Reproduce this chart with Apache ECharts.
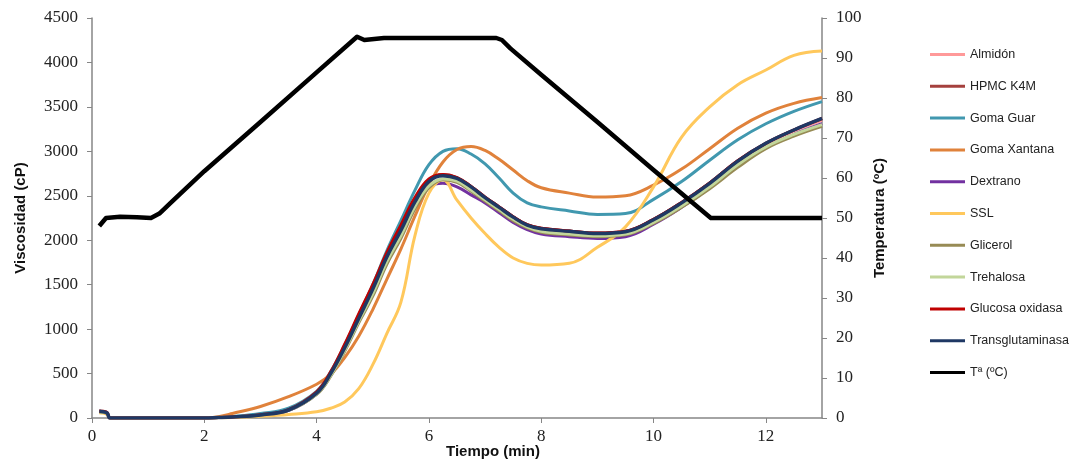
<!DOCTYPE html>
<html lang="es">
<head>
<meta charset="utf-8">
<title>Viscosidad y temperatura</title>
<script src="https://cdn.jsdelivr.net/npm/echarts@6/dist/echarts.min.js"></script>
<style>
  html, body { margin: 0; padding: 0; background: #fff; }
  #chart { width: 1085px; height: 463px; }
</style>
</head>
<body>
<div id="chart"></div>
<script>
// tiempo (min) comun a todas las curvas de viscosidad
var tiempo = [0.13, 0.2, 0.27, 0.32, 0.5, 1, 1.5, 2, 2.25, 2.5, 3, 3.5, 4, 4.25, 4.5, 4.75, 5, 5.25, 5.5, 5.75,
  6, 6.25, 6.5, 6.75, 7, 7.25, 7.5, 7.75, 8, 8.5, 9, 9.5, 10, 10.5, 11, 11.5, 12, 12.5, 13];

// viscosidad (cP)
var almidon = [70, 65, 50, 0, 0, 0, 0, 0, 5, 12, 35, 90, 280, 500, 800, 1130, 1460, 1820, 2120, 2440,
  2665, 2730, 2700, 2600, 2480, 2370, 2260, 2170, 2130, 2100, 2075, 2095, 2230, 2420, 2640, 2890, 3080, 3230, 3350];
var hpmc = [75, 70, 55, 0, 0, 0, 0, 0, 5, 12, 35, 90, 285, 505, 805, 1135, 1470, 1830, 2130, 2450,
  2675, 2740, 2705, 2605, 2485, 2375, 2265, 2175, 2135, 2105, 2080, 2100, 2235, 2425, 2645, 2895, 3090, 3240, 3365];
var gomaGuar = [70, 65, 50, 0, 0, 0, 0, 0, 5, 15, 50, 110, 300, 520, 820, 1160, 1500, 1880, 2220, 2560,
  2850, 3000, 3030, 2970, 2860, 2700, 2530, 2420, 2375, 2330, 2290, 2300, 2460, 2660, 2900, 3130, 3310, 3450, 3560];
var gomaXantana = [70, 65, 50, 0, 0, 0, 0, 0, 15, 50, 130, 240, 380, 490, 680, 920, 1220, 1560, 1900, 2270,
  2620, 2880, 3020, 3055, 3010, 2910, 2790, 2670, 2590, 2530, 2485, 2500, 2620, 2800, 3030, 3260, 3430, 3540, 3605];
var dextrano = [70, 65, 50, 0, 0, 0, 0, 0, 5, 12, 35, 85, 270, 480, 770, 1100, 1420, 1780, 2080, 2390,
  2600, 2640, 2600, 2510, 2420, 2310, 2200, 2120, 2070, 2040, 2020, 2040, 2180, 2370, 2590, 2840, 3040, 3190, 3310];
var ssl = [60, 55, 40, 0, 0, 0, 0, 0, 2, 5, 20, 40, 70, 110, 180, 330, 600, 950, 1300, 2050,
  2530, 2680, 2450, 2250, 2075, 1920, 1800, 1740, 1720, 1740, 1920, 2150, 2600, 3160, 3500, 3750, 3915, 4080, 4130];
var glicerol = [70, 65, 50, 0, 0, 0, 0, 0, 5, 12, 35, 85, 265, 470, 750, 1070, 1370, 1730, 2020, 2350,
  2590, 2680, 2650, 2550, 2440, 2330, 2220, 2140, 2090, 2060, 2040, 2060, 2190, 2370, 2580, 2820, 3030, 3170, 3280];
var trehalosa = [70, 65, 50, 0, 0, 0, 0, 0, 5, 12, 35, 88, 270, 480, 765, 1090, 1400, 1760, 2050, 2380,
  2610, 2690, 2665, 2565, 2455, 2345, 2235, 2150, 2100, 2070, 2050, 2070, 2200, 2385, 2600, 2850, 3050, 3190, 3300];
var glucosaOxidasa = [80, 75, 60, 0, 0, 0, 0, 0, 5, 12, 38, 95, 295, 520, 830, 1170, 1500, 1860, 2170, 2480,
  2690, 2740, 2705, 2605, 2485, 2375, 2265, 2175, 2135, 2105, 2080, 2100, 2235, 2425, 2645, 2895, 3090, 3240, 3370];
var transglutaminasa = [75, 70, 55, 0, 0, 0, 0, 0, 5, 12, 35, 90, 280, 500, 790, 1120, 1450, 1810, 2110, 2430,
  2660, 2725, 2695, 2600, 2480, 2370, 2260, 2170, 2130, 2100, 2075, 2095, 2230, 2420, 2640, 2890, 3090, 3240, 3370];

// temperatura (ºC)
var tiempoTemp = [0.13, 0.25, 0.5, 0.8, 1.05, 1.2, 1.4, 2, 3, 4, 4.72, 4.85, 5.2, 7.2, 7.3, 7.45, 8, 9, 10, 11.02, 13];
var temperatura = [48, 50, 50.3, 50.2, 50, 51.1, 53.8, 61.7, 74, 86.4, 95.3, 94.5, 95, 95, 94.5, 92.4, 85.8, 74, 62, 50, 50];

var nombres = ['Almidón', 'HPMC K4M', 'Goma Guar', 'Goma Xantana', 'Dextrano', 'SSL', 'Glicerol',
  'Trehalosa', 'Glucosa oxidasa', 'Transglutaminasa', 'Tª (ºC)'];
var colores = ['#FF9999', '#A5403E', '#4198AF', '#E0823B', '#7231A0', '#FFC85C', '#978B55',
  '#C2D69A', '#C00000', '#1F3864', '#000000'];
var curvas = [almidon, hpmc, gomaGuar, gomaXantana, dextrano, ssl, glicerol, trehalosa, glucosaOxidasa, transglutaminasa];

function pares(xs, ys) {
  var out = [];
  for (var i = 0; i < xs.length; i++) out.push([xs[i], ys[i]]);
  return out;
}

var series = [];
for (var i = 0; i < curvas.length; i++) {
  series.push({
    name: nombres[i],
    type: 'line',
    yAxisIndex: 0,
    data: pares(tiempo, curvas[i]),
    smooth: 0.4,
    symbol: 'none',
    color: colores[i],
    lineStyle: { width: i === 9 ? 3.5 : 3, color: colores[i] }
  });
}
series.push({
  name: nombres[10],
  type: 'line',
  yAxisIndex: 1,
  data: pares(tiempoTemp, temperatura),
  smooth: false,
  symbol: 'none',
  color: '#000',
  lineStyle: { width: 4.5, color: '#000', join: 'round' }
});

var serif = 'Liberation Serif, Times New Roman, serif';
var sans = 'Liberation Sans, Arial, sans-serif';
var ejeLinea = { show: true, lineStyle: { color: '#868686', width: 1.5 } };
var sinMiles = function (v) { return String(v); };

var chart = echarts.init(document.getElementById('chart'));
chart.setOption({
  animation: false,
  backgroundColor: '#fff',
  grid: { left: 92, right: 263, top: 18, bottom: 45, outerBoundsMode: 'none' },
  legend: {
    orient: 'vertical',
    left: 930,
    top: 47,
    padding: 0,
    itemWidth: 35,
    itemHeight: 14,
    itemGap: 16.8,
    data: nombres,
    textStyle: { fontFamily: sans, fontSize: 12.5, color: '#222', lineHeight: 15 },
    icon: 'path://M0,6 L35,6 L35,9 L0,9 Z'
  },
  xAxis: {
    type: 'value',
    min: 0,
    max: 13,
    interval: 2,
    name: 'Tiempo (min)',
    nameLocation: 'middle',
    nameGap: 26,
    nameMoveOverlap: false,
    nameTextStyle: { fontFamily: sans, fontWeight: 'bold', fontSize: 15, color: '#111', padding: [0, 0, 0, 72] },
    axisLine: ejeLinea,
    axisTick: { show: true, length: 5, lineStyle: { color: '#868686' } },
    axisLabel: { fontFamily: serif, fontSize: 17, color: '#222', margin: 10, showMaxLabel: false, formatter: sinMiles },
    splitLine: { show: false }
  },
  yAxis: [{
    type: 'value',
    min: 0,
    max: 4500,
    interval: 500,
    name: 'Viscosidad (cP)',
    nameLocation: 'middle',
    nameGap: 64,
    nameRotate: 90,
    nameTextStyle: { fontFamily: sans, fontWeight: 'bold', fontSize: 15, color: '#111' },
    axisLine: ejeLinea,
    axisTick: { show: true, length: 5, lineStyle: { color: '#868686' } },
    axisLabel: { fontFamily: serif, fontSize: 17, color: '#222', margin: 14, formatter: sinMiles },
    splitLine: { show: false }
  }, {
    type: 'value',
    position: 'right',
    min: 0,
    max: 100,
    interval: 10,
    name: 'Temperatura (ºC)',
    nameLocation: 'middle',
    nameGap: 49,
    nameRotate: 90,
    nameTextStyle: { fontFamily: sans, fontWeight: 'bold', fontSize: 15, color: '#111' },
    axisLine: ejeLinea,
    axisTick: { show: true, length: 5, lineStyle: { color: '#868686' } },
    axisLabel: { fontFamily: serif, fontSize: 17, color: '#222', margin: 14, formatter: sinMiles },
    splitLine: { show: false }
  }],
  series: series
});
</script>
</body>
</html>
